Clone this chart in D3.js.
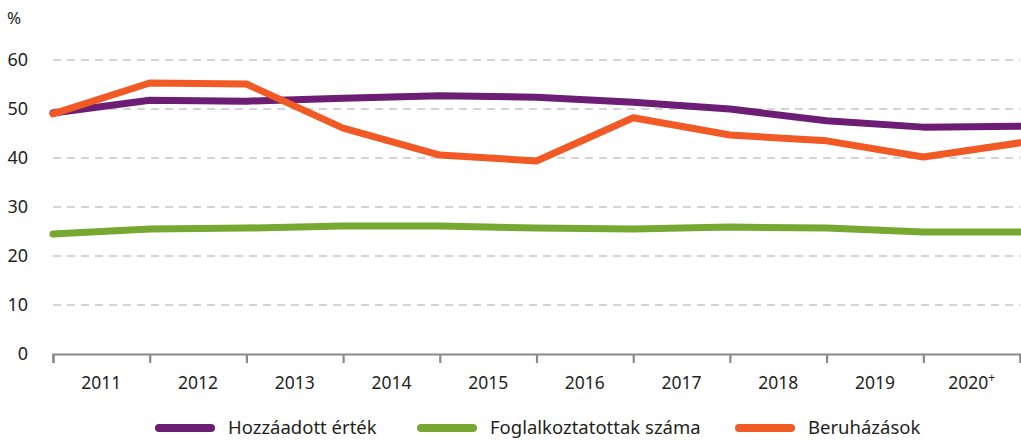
<!DOCTYPE html>
<html>
<head>
<meta charset="utf-8">
<script src="https://cdn.jsdelivr.net/npm/d3@7"></script>
<style>
  body { margin: 0; background: #fff; }
  text { font-family: "Noto Sans", "Open Sans", sans-serif; fill: #231f20; }
</style>
</head>
<body>
<div id="chart"></div>
<script>
/* DATA */
const years = ["2011", "2012", "2013", "2014", "2015", "2016", "2017", "2018", "2019", "2020"];
const points = d3.range(11); // line points sit on the tick marks between years
const hozzaadott = [49.2, 51.8, 51.6, 52.2, 52.7, 52.4, 51.4, 50.0, 47.6, 46.3, 46.5];
const foglalkoztatottak = [24.5, 25.5, 25.7, 26.1, 26.1, 25.7, 25.5, 25.9, 25.7, 24.9, 24.9];
const beruhazasok = [49.0, 55.3, 55.1, 46.1, 40.6, 39.4, 48.2, 44.7, 43.5, 40.2, 43.1];
const yTicks = [0, 10, 20, 30, 40, 50, 60];

const series = [
  { name: "Hozzáadott érték", values: hozzaadott, color: "#6c1d74" },
  { name: "Foglalkoztatottak száma", values: foglalkoztatottak, color: "#76a832" },
  { name: "Beruházások", values: beruhazasok, color: "#f15a24" }
];

/* CONSTANTS */
const width = 1021, height = 440;
const margin = { top: 60, right: 1, bottom: 86, left: 53 };

const svg = d3.select("#chart").append("svg")
  .attr("width", width)
  .attr("height", height);

// SCALES
const xScale = d3.scaleLinear()
  .domain([0, 10])
  .range([margin.left, width - margin.right]);

const yScale = d3.scaleLinear()
  .domain([0, 60])
  .range([height - margin.bottom, margin.top]);

// GRIDLINES
svg.append("g")
  .selectAll("line")
  .data(yTicks.filter(d => d > 0))
  .join("line")
  .attr("x1", margin.left)
  .attr("x2", width - margin.right)
  .attr("y1", d => yScale(d))
  .attr("y2", d => yScale(d))
  .attr("stroke", "#c8c8c8")
  .attr("stroke-width", 1.3)
  .attr("stroke-dasharray", "8,6");

// Y LABELS
svg.append("g")
  .selectAll("text")
  .data(yTicks)
  .join("text")
  .attr("x", 28)
  .attr("y", d => yScale(d))
  .attr("dy", "0.36em")
  .attr("text-anchor", "end")
  .style("font-size", "18px")
  .text(d => d);

svg.append("text")
  .attr("x", 7)
  .attr("y", 24)
  .style("font-size", "17px")
  .text("%");

// X AXIS
const xAxis = d3.axisBottom(xScale)
  .tickValues(points)
  .tickSize(9)
  .tickFormat("");

const xg = svg.append("g")
  .attr("transform", `translate(0, ${yScale(0)})`)
  .call(xAxis);
xg.select(".domain").attr("stroke", "#8a8a8a").attr("stroke-width", 2.2);
xg.selectAll(".tick line").attr("stroke", "#8a8a8a").attr("stroke-width", 2.2);

// year labels centered between ticks
const yl = svg.append("g")
  .selectAll("text")
  .data(years)
  .join("text")
  .attr("x", (d, i) => xScale(i + 0.5))
  .attr("y", 389)
  .attr("text-anchor", "middle")
  .style("font-size", "17.5px")
  .text(d => d);
yl.filter(d => d === "2020")
  .append("tspan")
  .attr("dy", "-7")
  .style("font-size", "12px")
  .text("+");

// LINES
const line = d3.line()
  .x((d, i) => xScale(i))
  .y(d => yScale(d));

svg.append("g")
  .selectAll("path")
  .data(series)
  .join("path")
  .attr("d", d => line(d.values))
  .attr("fill", "none")
  .attr("stroke", d => d.color)
  .attr("stroke-width", 7)
  .attr("stroke-linecap", "round")
  .attr("stroke-linejoin", "round");

// LEGEND
const legendX = [159, 421, 739];
const legend = svg.append("g")
  .selectAll("g")
  .data(series)
  .join("g")
  .attr("transform", (d, i) => `translate(${legendX[i]}, 428)`);

legend.append("line")
  .attr("x1", 0)
  .attr("x2", 52)
  .attr("stroke", d => d.color)
  .attr("stroke-width", 8)
  .attr("stroke-linecap", "round");

legend.append("text")
  .attr("x", 69)
  .attr("dy", "0.35em")
  .style("font-size", "18.5px")
  .text(d => d.name);
</script>
</body>
</html>
